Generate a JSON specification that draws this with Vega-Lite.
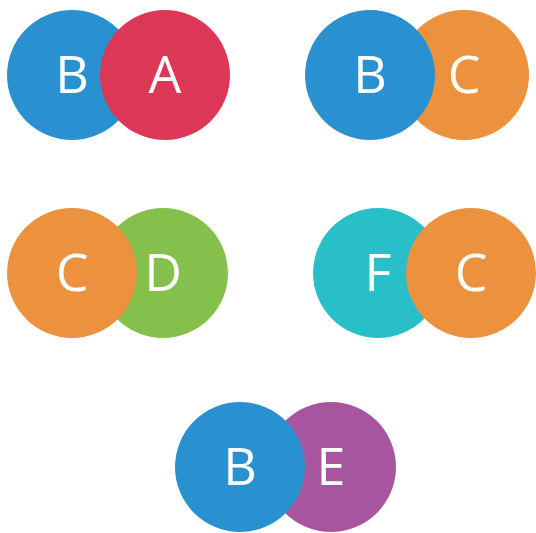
{
  "$schema": "https://vega.github.io/schema/vega-lite/v6.json",
  "width": 536,
  "height": 533,
  "autosize": {"type": "fit", "contains": "padding"},
  "padding": 0,
  "background": "white",
  "config": {"view": {"stroke": null}},
  "data": {
    "values": [
      {"pair": 1, "letter": "B", "x": 72, "y": 75, "z": 1},
      {"pair": 1, "letter": "A", "x": 165, "y": 75, "z": 2},
      {"pair": 2, "letter": "C", "x": 464, "y": 75, "z": 1},
      {"pair": 2, "letter": "B", "x": 370, "y": 75, "z": 2},
      {"pair": 3, "letter": "D", "x": 163, "y": 273, "z": 1},
      {"pair": 3, "letter": "C", "x": 72, "y": 273, "z": 2},
      {"pair": 4, "letter": "F", "x": 378, "y": 273, "z": 1},
      {"pair": 4, "letter": "C", "x": 471, "y": 273, "z": 2},
      {"pair": 5, "letter": "E", "x": 331, "y": 467, "z": 1},
      {"pair": 5, "letter": "B", "x": 240, "y": 467, "z": 2}
    ]
  },
  "encoding": {
    "x": {"field": "x", "type": "quantitative", "scale": {"domain": [0, 536], "range": [0, 536], "nice": false, "zero": false}, "axis": null},
    "y": {"field": "y", "type": "quantitative", "scale": {"domain": [0, 533], "range": [0, 533], "nice": false, "zero": false}, "axis": null}
  },
  "layer": [
    {
      "mark": {"type": "point", "shape": "circle", "filled": true, "opacity": 1, "size": 16900, "strokeWidth": 0},
      "encoding": {
        "color": {"field": "letter", "type": "nominal", "legend": null,
          "scale": {"domain": ["A", "B", "C", "D", "E", "F"], "range": ["#dc3756", "#2a91d0", "#ec913d", "#86c04c", "#a855a0", "#29bfc9"]}},
        "order": {"field": "z", "type": "quantitative"}
      }
    },
    {
      "mark": {"type": "text", "color": "white", "font": "Open Sans", "fontSize": 52, "baseline": "middle", "align": "center", "dy": 2},
      "encoding": {"text": {"field": "letter", "type": "nominal"}}
    }
  ]
}
